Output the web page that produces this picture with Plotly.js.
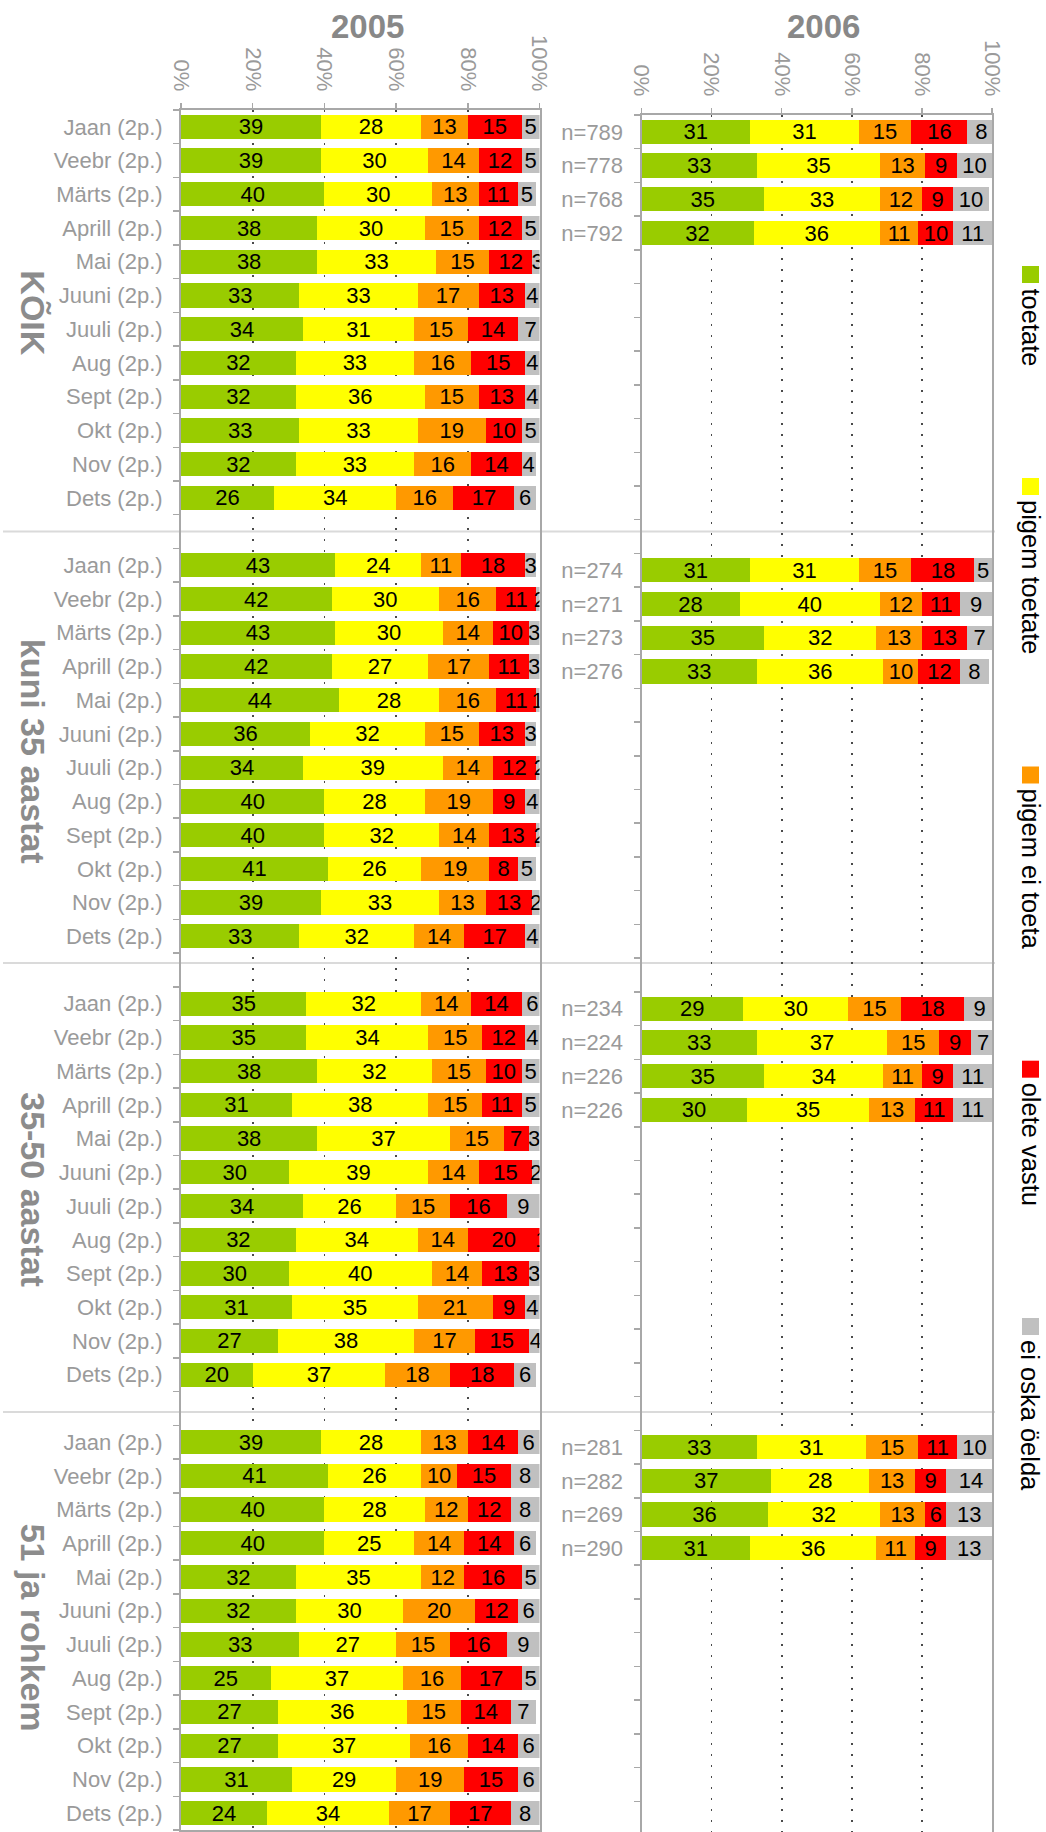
<!DOCTYPE html>
<html><head><meta charset="utf-8">
<script src="https://cdn.plot.ly/plotly-3.0.1.min.js"></script>
<style>html,body{margin:0;padding:0;background:#fff}#chart{width:1046px;height:1832px}</style>
</head><body><div id="chart"></div>
<script>
// ---------------- DATA ----------------
const months = ["Jaan (2p.)","Veebr (2p.)","Märts (2p.)","Aprill (2p.)","Mai (2p.)","Juuni (2p.)","Juuli (2p.)","Aug (2p.)","Sept (2p.)","Okt (2p.)","Nov (2p.)","Dets (2p.)"];
const groups = ["KÕIK","kuni 35 aastat","35-50 aastat","51 ja rohkem"];
const seriesNames = ["toetate","pigem toetate","pigem ei toeta","olete vastu","ei oska öelda"];
const seriesColors = ["#99CC00","#FFFF00","#FF9900","#FF0000","#C0C0C0"];
const yearTitles = ["2005","2006"];
const xTicks = [0,20,40,60,80,100];
const xTickLabels = ["0%","20%","40%","60%","80%","100%"];

// 2005: one row per month, values in series order
const koik2005 = [[39,28,13,15,5],[39,30,14,12,5],[40,30,13,11,5],[38,30,15,12,5],[38,33,15,12,3],[33,33,17,13,4],[34,31,15,14,7],[32,33,16,15,4],[32,36,15,13,4],[33,33,19,10,5],[32,33,16,14,4],[26,34,16,17,6]];
const kuni35_2005 = [[43,24,11,18,3],[42,30,16,11,2],[43,30,14,10,3],[42,27,17,11,3],[44,28,16,11,1],[36,32,15,13,3],[34,39,14,12,2],[40,28,19,9,4],[40,32,14,13,2],[41,26,19,8,5],[39,33,13,13,2],[33,32,14,17,4]];
const a35_50_2005 = [[35,32,14,14,6],[35,34,15,12,4],[38,32,15,10,5],[31,38,15,11,5],[38,37,15,7,3],[30,39,14,15,2],[34,26,15,16,9],[32,34,14,20,1],[30,40,14,13,3],[31,35,21,9,4],[27,38,17,15,4],[20,37,18,18,6]];
const a51_2005 = [[39,28,13,14,6],[41,26,10,15,8],[40,28,12,12,8],[40,25,14,14,6],[32,35,12,16,5],[32,30,20,12,6],[33,27,15,16,9],[25,37,16,17,5],[27,36,15,14,7],[27,37,16,14,6],[31,29,19,15,6],[24,34,17,17,8]];

// 2006: Jaan..Aprill
const koik2006 = [[31,31,15,16,8],[33,35,13,9,10],[35,33,12,9,10],[32,36,11,10,11]];
const kuni35_2006 = [[31,31,15,18,5],[28,40,12,11,9],[35,32,13,13,7],[33,36,10,12,8]];
const a35_50_2006 = [[29,30,15,18,9],[33,37,15,9,7],[35,34,11,9,11],[30,35,13,11,11]];
const a51_2006 = [[33,31,15,11,10],[37,28,13,9,14],[36,32,13,6,13],[31,36,11,9,13]];
const n2006_koik = ["n=789","n=778","n=768","n=792"];
const n2006_kuni35 = ["n=274","n=271","n=273","n=276"];
const n2006_35_50 = ["n=234","n=224","n=226","n=226"];
const n2006_51 = ["n=281","n=282","n=269","n=290"];

const data2005 = [koik2005, kuni35_2005, a35_50_2005, a51_2005];
const data2006 = [koik2006, kuni35_2006, a35_50_2006, a51_2006];
const nLabels2006 = [n2006_koik, n2006_kuni35, n2006_35_50, n2006_51];

// ---------------- LAYOUT CONSTANTS ----------------
const W = 1046, H = 1832;
const FONT = "Liberation Sans, Arial, Helvetica, sans-serif";
const GROUP_SLOTS = 13;               // 12 months + 1 gap slot
const N_SLOTS = 51;
const leftTop = 110, leftBottom = 1830;
const slot = (leftBottom - leftTop) / N_SLOTS;
const rightTop = 115;
const leftX = [181, 539.5], rightX = [641.5, 992];
const sepPix = [531.5, 963, 1412];
const GREY_TXT = "#9a9a9a", AXIS_COL = "#a8a8a8";

const pos = (g, m) => g * GROUP_SLOTS + m;

// ---------------- TRACES ----------------
const traces = [];
function addTraces(dataSets, xa, ya) {
  seriesNames.forEach((name, si) => {
    const xs = [], ys = [], tx = [];
    dataSets.forEach((rows, g) => rows.forEach((r, m) => {
      xs.push(r[si]); ys.push(pos(g, m)); tx.push(String(r[si]));
    }));
    traces.push({
      type: "bar", orientation: "h", name: name,
      x: xs, y: ys, text: tx, width: 0.72,
      xaxis: xa, yaxis: ya,
      marker: {color: seriesColors[si], line: {width: 0}},
      textposition: "inside", insidetextanchor: "middle", textangle: 0,
      constraintext: "none", cliponaxis: true,
      textfont: {family: FONT, size: 22, color: "#000"},
      hoverinfo: "skip", showlegend: false
    });
  });
}
addTraces(data2005, "x", "y");
addTraces(data2006, "x2", "y2");

// tick labels
const yVals2005 = [], yText2005 = [];
groups.forEach((g, gi) => months.forEach((mo, mi) => { yVals2005.push(pos(gi, mi)); yText2005.push(mo); }));
const yVals2006 = [], yText2006 = [];
nLabels2006.forEach((arr, gi) => arr.forEach((t, mi) => { yVals2006.push(pos(gi, mi)); yText2006.push(t); }));
const boundaries = [];
for (let k = 0; k <= N_SLOTS; k++) boundaries.push(k - 0.5);

const rightRangeBottom = -0.5 + (H - rightTop) / slot;

function xAxis(domainPix, anchor, mirror) {
  return {
    domain: [domainPix[0] / W, domainPix[1] / W], anchor: anchor, side: "top",
    range: [0, 100], tickmode: "array", tickvals: xTicks, ticktext: xTickLabels,
    tickangle: 90, ticks: "outside", ticklen: 5, tickwidth: 1.5, tickcolor: AXIS_COL,
    tickfont: {family: FONT, size: 22, color: GREY_TXT}, ticklabelstandoff: 4,
    showline: true, linecolor: AXIS_COL, linewidth: 2, mirror: mirror,
    showgrid: true, gridcolor: "#4a4a4a", gridwidth: 1.6, griddash: "2px,9px",
    zeroline: false, fixedrange: true, automargin: false
  };
}
function yAxis(topPix, bottomPix, range, anchor, vals, texts) {
  return {
    domain: [1 - bottomPix / H, 1 - topPix / H], anchor: anchor,
    range: range, tickmode: "array", tickvals: vals, ticktext: texts,
    ticks: "", tickfont: {family: FONT, size: 22, color: GREY_TXT}, ticklabelstandoff: 12,
    minor: {tickmode: "array", tickvals: boundaries, ticks: "outside", ticklen: 6, tickwidth: 1.5, tickcolor: AXIS_COL, showgrid: false},
    showline: true, linecolor: AXIS_COL, linewidth: 2, mirror: true,
    showgrid: false, zeroline: false, fixedrange: true, automargin: false
  };
}

const annotations = [];
const shapes = [];
// year titles
[leftX, rightX].forEach((xp, i) => {
  annotations.push({
    xref: "paper", yref: "paper", x: ((xp[0] + xp[1]) / 2 + 7) / W, y: 1 - 26 / H,
    xanchor: "center", yanchor: "middle", showarrow: false, text: "<b>" + yearTitles[i] + "</b>",
    font: {family: FONT, size: 33, color: "#888"}
  });
});
// group labels
groups.forEach((g, gi) => {
  annotations.push({
    xref: "paper", yref: "y", x: 33 / W, y: gi * GROUP_SLOTS + 5.5,
    xanchor: "center", yanchor: "middle", showarrow: false, textangle: 90,
    text: "<b>" + g + "</b>", font: {family: FONT, size: 34, color: "#8c8c8c"}
  });
});
// separators
sepPix.forEach(p => {
  shapes.push({type: "line", xref: "paper", yref: "paper", x0: 3 / W, x1: 995 / W,
    y0: 1 - p / H, y1: 1 - p / H, line: {color: "#dadada", width: 2}, layer: "below"});
});
// legend (rotated), laid out sequentially
const ctx = document.createElement("canvas").getContext("2d");
const LEG_SIZE = 25.5;
ctx.font = LEG_SIZE + "px 'Liberation Sans'";
let ly = 266;
const legX = 1030.5, sq = 17;
seriesNames.forEach((name, si) => {
  shapes.push({type: "rect", xref: "paper", yref: "paper",
    x0: (legX - sq / 2) / W, x1: (legX + sq / 2) / W, y0: 1 - ly / H, y1: 1 - (ly + sq) / H,
    fillcolor: seriesColors[si], line: {width: 0}});
  const tTop = ly + sq + 4;
  annotations.push({
    xref: "paper", yref: "paper", x: legX / W, y: 1 - tTop / H,
    xanchor: "center", yanchor: "top", showarrow: false, textangle: 90, borderpad: 0,
    text: name, font: {family: FONT, size: LEG_SIZE, color: "#000"}
  });
  ly = tTop + ctx.measureText(name).width + 113;
});

const layout = {
  width: W, height: H, margin: {l: 0, r: 0, t: 0, b: 0},
  paper_bgcolor: "#fff", plot_bgcolor: "rgba(0,0,0,0)",
  barmode: "stack", bargap: 0.28, showlegend: false,
  font: {family: FONT},
  xaxis: xAxis(leftX, "y", true),
  xaxis2: xAxis(rightX, "y2", false),
  yaxis: yAxis(leftTop, leftBottom, [N_SLOTS - 0.5, -0.5], "x", yVals2005, yText2005),
  yaxis2: yAxis(rightTop, H, [rightRangeBottom, -0.5], "x2", yVals2006, yText2006),
  annotations: annotations, shapes: shapes
};

Plotly.newPlot("chart", traces, layout, {staticPlot: true, displayModeBar: false});
</script></body></html>
